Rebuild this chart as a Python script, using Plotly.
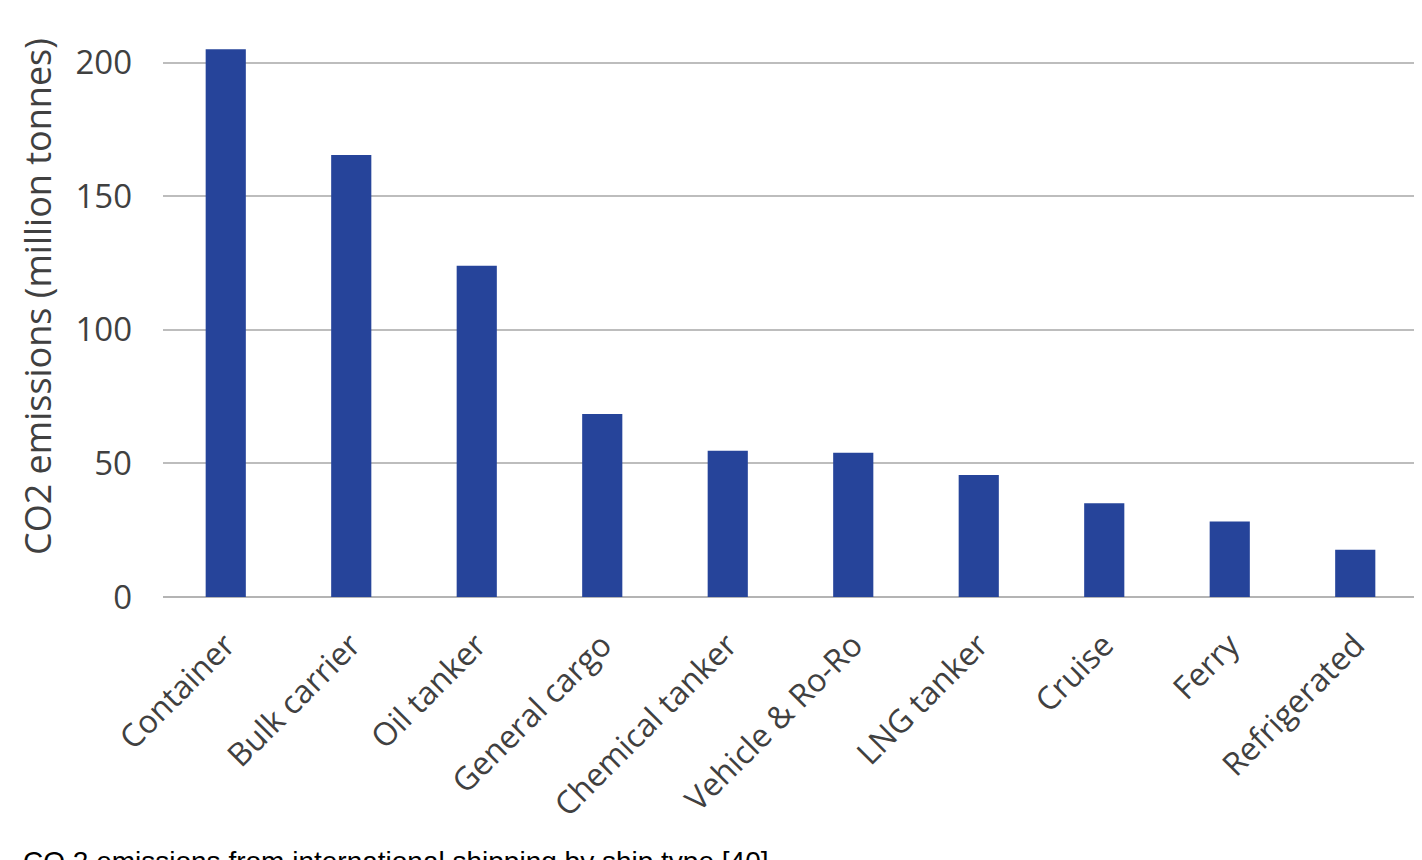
import plotly.graph_objects as go

ship_types = ["Container", "Bulk carrier", "Oil tanker", "General cargo", "Chemical tanker",
              "Vehicle & Ro-Ro", "LNG tanker", "Cruise", "Ferry", "Refrigerated"]
co2_mt = [205, 165.5, 124, 68.5, 54.7, 54, 45.7, 35.1, 28.3, 17.7]

text_grey = "#404040"

fig = go.Figure(go.Bar(x=ship_types, y=co2_mt, marker_color="#26449A",
                       marker_line_width=0))

# page body has an 8px margin, so the figure is a bit smaller than the window
fig.update_layout(
    width=1414, height=852,
    margin=dict(l=155, r=4, t=28, b=263),
    plot_bgcolor="white", paper_bgcolor="white",
    bargap=0.68, showlegend=False,
    font=dict(family="Open Sans", size=32, color=text_grey),
)
fig.update_xaxes(tickangle=-45, showline=False, ticks="", tickfont=dict(size=32),
                 ticklabelstandoff=22)
fig.update_yaxes(range=[0, 210], tickvals=[0, 50, 100, 150, 200], showgrid=True,
                 gridcolor="#bdbdbd", gridwidth=2, zeroline=True, zerolinecolor="#b4b4b4",
                 zerolinewidth=2, ticks="", ticklabelstandoff=30, tickfont=dict(size=33))

# axis title sits a little above the middle of the plot, so place it by hand
fig.add_annotation(text="CO2 emissions (million tonnes)", textangle=-90,
                   xref="paper", yref="paper", x=-0.1004, y=0.5365,
                   xanchor="center", yanchor="middle", showarrow=False,
                   font=dict(size=36, color=text_grey))

fig.add_annotation(text="CO 2 emissions from international shipping by ship type [40]",
                   xref="paper", yref="paper", x=-0.113, y=-0.44,
                   xanchor="left", yanchor="top", showarrow=False,
                   font=dict(family="Liberation Sans", size=28, color="black"))

fig.write_html("out.html")
